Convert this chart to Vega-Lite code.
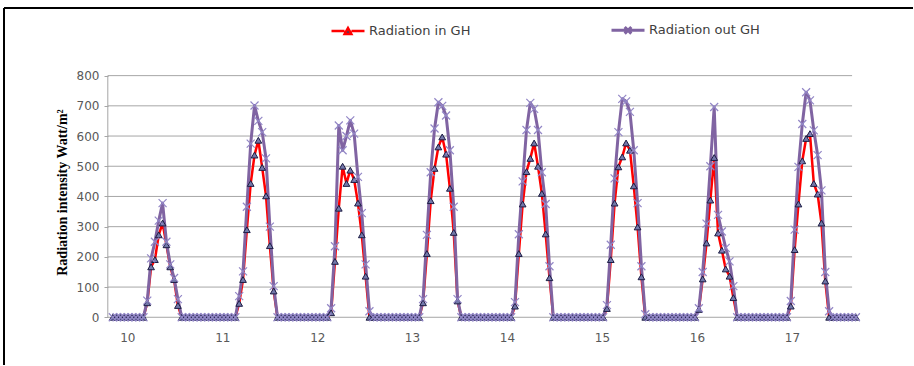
{
  "$schema": "https://vega.github.io/schema/vega-lite/v6.json",
  "width": 914,
  "height": 366,
  "autosize": {"type": "fit", "contains": "padding"},
  "padding": {"left": 3, "top": 7, "right": 0, "bottom": 0},
  "background": "white",
  "config": {
    "view": {"stroke": null},
    "axisX": {"orient": "bottom", "offset": -48, "domain": false, "ticks": false, "tickSize": 0, "grid": false, "labelPadding": 15,
              "labelFont": "DejaVu Sans", "labelFontSize": 12, "labelColor": "#595959"},
    "axisY": {"orient": "left", "offset": -104, "domain": false, "grid": false, "ticks": true, "tickSize": 4, "tickColor": "#a6a6a6",
              "labelPadding": 5, "labelFont": "DejaVu Sans", "labelFontSize": 12, "labelColor": "#595959",
              "titleFont": "Liberation Serif", "titleFontSize": 14, "titleFontWeight": "bold", "titleColor": "#000000", "titlePadding": 7}
  },
  "datasets": {
    "rad": [
      {"h":0,"in":0,"out":0},{"h":1,"in":0,"out":0},{"h":2,"in":0,"out":0},{"h":3,"in":0,"out":0},{"h":4,"in":0,"out":0},{"h":5,"in":0,"out":0},{"h":6,"in":0,"out":0},{"h":7,"in":0,"out":0},{"h":8,"in":0,"out":0},
      {"h":9,"in":48,"out":55},{"h":10,"in":167,"out":195},{"h":11,"in":191,"out":250},{"h":12,"in":273,"out":320},{"h":13,"in":312,"out":378},{"h":14,"in":240,"out":250},{"h":15,"in":167,"out":175},{"h":16,"in":125,"out":130},{"h":17,"in":39,"out":60},
      {"h":18,"in":0,"out":0},{"h":19,"in":0,"out":0},{"h":20,"in":0,"out":0},{"h":21,"in":0,"out":0},{"h":22,"in":0,"out":0},{"h":23,"in":0,"out":0},{"h":24,"in":0,"out":0},{"h":25,"in":0,"out":0},{"h":26,"in":0,"out":0},{"h":27,"in":0,"out":0},{"h":28,"in":0,"out":0},{"h":29,"in":0,"out":0},{"h":30,"in":0,"out":0},{"h":31,"in":0,"out":0},{"h":32,"in":0,"out":0},
      {"h":33,"in":46,"out":70},{"h":34,"in":125,"out":152},{"h":35,"in":290,"out":366},{"h":36,"in":443,"out":575},{"h":37,"in":537,"out":701},{"h":38,"in":586,"out":650},{"h":39,"in":496,"out":613},{"h":40,"in":402,"out":526},{"h":41,"in":237,"out":300},{"h":42,"in":87,"out":103},
      {"h":43,"in":0,"out":0},{"h":44,"in":0,"out":0},{"h":45,"in":0,"out":0},{"h":46,"in":0,"out":0},{"h":47,"in":0,"out":0},{"h":48,"in":0,"out":0},{"h":49,"in":0,"out":0},{"h":50,"in":0,"out":0},{"h":51,"in":0,"out":0},{"h":52,"in":0,"out":0},{"h":53,"in":0,"out":0},{"h":54,"in":0,"out":0},{"h":55,"in":0,"out":0},{"h":56,"in":0,"out":0},
      {"h":57,"in":15,"out":30},{"h":58,"in":185,"out":235},{"h":59,"in":361,"out":635},{"h":60,"in":500,"out":553},{"h":61,"in":443,"out":600},{"h":62,"in":487,"out":652},{"h":63,"in":456,"out":608},{"h":64,"in":378,"out":465},{"h":65,"in":273,"out":345},{"h":66,"in":136,"out":175},{"h":67,"in":0,"out":20},
      {"h":68,"in":0,"out":0},{"h":69,"in":0,"out":0},{"h":70,"in":0,"out":0},{"h":71,"in":0,"out":0},{"h":72,"in":0,"out":0},{"h":73,"in":0,"out":0},{"h":74,"in":0,"out":0},{"h":75,"in":0,"out":0},{"h":76,"in":0,"out":0},{"h":77,"in":0,"out":0},{"h":78,"in":0,"out":0},{"h":79,"in":0,"out":0},{"h":80,"in":0,"out":0},
      {"h":81,"in":48,"out":60},{"h":82,"in":211,"out":273},{"h":83,"in":386,"out":480},{"h":84,"in":493,"out":625},{"h":85,"in":564,"out":712},{"h":86,"in":597,"out":700},{"h":87,"in":540,"out":668},{"h":88,"in":427,"out":553},{"h":89,"in":281,"out":366},{"h":90,"in":54,"out":60},
      {"h":91,"in":0,"out":0},{"h":92,"in":0,"out":0},{"h":93,"in":0,"out":0},{"h":94,"in":0,"out":0},{"h":95,"in":0,"out":0},{"h":96,"in":0,"out":0},{"h":97,"in":0,"out":0},{"h":98,"in":0,"out":0},{"h":99,"in":0,"out":0},{"h":100,"in":0,"out":0},{"h":101,"in":0,"out":0},{"h":102,"in":0,"out":0},{"h":103,"in":0,"out":0},{"h":104,"in":0,"out":0},
      {"h":105,"in":37,"out":50},{"h":106,"in":211,"out":275},{"h":107,"in":375,"out":450},{"h":108,"in":482,"out":620},{"h":109,"in":526,"out":710},{"h":110,"in":577,"out":690},{"h":111,"in":500,"out":620},{"h":112,"in":410,"out":480},{"h":113,"in":276,"out":375},{"h":114,"in":131,"out":169},
      {"h":115,"in":0,"out":0},{"h":116,"in":0,"out":0},{"h":117,"in":0,"out":0},{"h":118,"in":0,"out":0},{"h":119,"in":0,"out":0},{"h":120,"in":0,"out":0},{"h":121,"in":0,"out":0},{"h":122,"in":0,"out":0},{"h":123,"in":0,"out":0},{"h":124,"in":0,"out":0},{"h":125,"in":0,"out":0},{"h":126,"in":0,"out":0},{"h":127,"in":0,"out":0},{"h":128,"in":0,"out":0},
      {"h":129,"in":29,"out":40},{"h":130,"in":191,"out":240},{"h":131,"in":378,"out":460},{"h":132,"in":498,"out":613},{"h":133,"in":531,"out":723},{"h":134,"in":577,"out":715},{"h":135,"in":553,"out":680},{"h":136,"in":435,"out":553},{"h":137,"in":299,"out":378},{"h":138,"in":134,"out":169},{"h":139,"in":0,"out":10},
      {"h":140,"in":0,"out":0},{"h":141,"in":0,"out":0},{"h":142,"in":0,"out":0},{"h":143,"in":0,"out":0},{"h":144,"in":0,"out":0},{"h":145,"in":0,"out":0},{"h":146,"in":0,"out":0},{"h":147,"in":0,"out":0},{"h":148,"in":0,"out":0},{"h":149,"in":0,"out":0},{"h":150,"in":0,"out":0},{"h":151,"in":0,"out":0},{"h":152,"in":0,"out":0},
      {"h":153,"in":26,"out":30},{"h":154,"in":127,"out":150},{"h":155,"in":246,"out":310},{"h":156,"in":388,"out":500},{"h":157,"in":529,"out":696},{"h":158,"in":279,"out":339},{"h":159,"in":222,"out":284},{"h":160,"in":160,"out":230},{"h":161,"in":136,"out":185},{"h":162,"in":65,"out":103},
      {"h":163,"in":0,"out":0},{"h":164,"in":0,"out":0},{"h":165,"in":0,"out":0},{"h":166,"in":0,"out":0},{"h":167,"in":0,"out":0},{"h":168,"in":0,"out":0},{"h":169,"in":0,"out":0},{"h":170,"in":0,"out":0},{"h":171,"in":0,"out":0},{"h":172,"in":0,"out":0},{"h":173,"in":0,"out":0},{"h":174,"in":0,"out":0},{"h":175,"in":0,"out":0},{"h":176,"in":0,"out":0},
      {"h":177,"in":37,"out":54},{"h":178,"in":224,"out":290},{"h":179,"in":375,"out":498},{"h":180,"in":518,"out":640},{"h":181,"in":592,"out":745},{"h":182,"in":608,"out":718},{"h":183,"in":443,"out":619},{"h":184,"in":408,"out":537},{"h":185,"in":312,"out":420},{"h":186,"in":120,"out":150},{"h":187,"in":0,"out":20},
      {"h":188,"in":0,"out":0},{"h":189,"in":0,"out":0},{"h":190,"in":0,"out":0},{"h":191,"in":0,"out":0},{"h":192,"in":0,"out":0},{"h":193,"in":0,"out":0},{"h":194,"in":0,"out":0}
    ],
    "grid": [{"g":0},{"g":100},{"g":200},{"g":300},{"g":400},{"g":500},{"g":600},{"g":700},{"g":800}],
    "one": [{"k":1}]
  },
  "layer": [
    {
      "data": {"name": "grid"},
      "mark": {"type": "rule", "stroke": "#a6a6a6", "strokeWidth": 1},
      "encoding": {
        "x": {"datum": -1.3, "type": "quantitative",
              "scale": {"domain": [-28.4, 208.9], "nice": false, "zero": false},
              "axis": {"values": [3.8, 28.6, 53.4, 78.1, 102.9, 127.7, 152.5, 177.3], "labelExpr": "'' + (round((datum.value - 3.8) / 24.78) + 10)", "title": null}},
        "x2": {"datum": 193},
        "y": {"field": "g", "type": "quantitative",
              "scale": {"domain": [-158, 1023.9], "nice": false, "zero": false},
              "axis": {"values": [0, 100, 200, 300, 400, 500, 600, 700, 800], "title": "Radiation intensity  Watt/m²", "titleY": 184}}
      }
    },
    {
      "data": {"name": "one"},
      "mark": {"type": "rule", "stroke": "#a6a6a6", "strokeWidth": 1},
      "encoding": {
        "x": {"datum": -1.3, "type": "quantitative",
              "axis": {"values": [3.8, 28.6, 53.4, 78.1, 102.9, 127.7, 152.5, 177.3], "labelExpr": "'' + (round((datum.value - 3.8) / 24.78) + 10)", "title": null}},
        "y": {"datum": 0, "type": "quantitative",
              "axis": {"values": [0, 100, 200, 300, 400, 500, 600, 700, 800], "title": "Radiation intensity  Watt/m²", "titleY": 184}},
        "y2": {"datum": 800}
      }
    },
    {
      "data": {"name": "one"},
      "mark": {"type": "rule", "stroke": "#000000", "strokeWidth": 2},
      "encoding": {
        "x": {"datum": -28.4, "type": "quantitative",
              "axis": {"values": [3.8, 28.6, 53.4, 78.1, 102.9, 127.7, 152.5, 177.3], "labelExpr": "'' + (round((datum.value - 3.8) / 24.78) + 10)", "title": null}},
        "y": {"datum": -158, "type": "quantitative",
              "axis": {"values": [0, 100, 200, 300, 400, 500, 600, 700, 800], "title": "Radiation intensity  Watt/m²", "titleY": 184}},
        "y2": {"datum": 1023.9}
      }
    },
    {
      "data": {"name": "one"},
      "mark": {"type": "rule", "stroke": "#000000", "strokeWidth": 2},
      "encoding": {
        "x": {"datum": -28.4, "type": "quantitative",
              "axis": {"values": [3.8, 28.6, 53.4, 78.1, 102.9, 127.7, 152.5, 177.3], "labelExpr": "'' + (round((datum.value - 3.8) / 24.78) + 10)", "title": null}},
        "x2": {"datum": 208.9},
        "y": {"datum": 1023.9, "type": "quantitative",
              "axis": {"values": [0, 100, 200, 300, 400, 500, 600, 700, 800], "title": "Radiation intensity  Watt/m²", "titleY": 184}}
      }
    },
    {
      "data": {"name": "rad"},
      "transform": [{"fold": ["in", "out"], "as": ["key", "value"]}],
      "mark": {"type": "line", "strokeJoin": "round"},
      "encoding": {
        "x": {"field": "h", "type": "quantitative",
              "axis": {"values": [3.8, 28.6, 53.4, 78.1, 102.9, 127.7, 152.5, 177.3], "labelExpr": "'' + (round((datum.value - 3.8) / 24.78) + 10)", "title": null}},
        "y": {"field": "value", "type": "quantitative",
              "axis": {"values": [0, 100, 200, 300, 400, 500, 600, 700, 800], "title": "Radiation intensity  Watt/m²", "titleY": 184}},
        "stroke": {"field": "key", "type": "nominal",
                   "scale": {"domain": ["in", "out"], "range": ["#ff0000", "#8064a2"]},
                   "legend": {"title": null, "orient": "none", "legendX": 326, "legendY": 4, "direction": "horizontal",
                              "padding": 0, "symbolSize": 1089, "symbolStrokeWidth": 2.5, "symbolFillColor": "#3a3d6e",
                              "labelFont": "DejaVu Sans", "labelFontSize": 13, "labelColor": "#404040",
                              "labelOffset": 3, "columnPadding": 134,
                              "labelExpr": "datum.value == 'in' ? 'Radiation in GH' : 'Radiation out GH'",
                              "encode": {"symbols": {"update": {
                                "shape": {"signal": "datum.value == 'in' ? 'M-1,0H-0.21M0.21,0H1M-0.2,0.17L0,-0.19L0.2,0.17Z' : 'M-1,0H1M-0.2,-0.2L0.2,0.2M-0.2,0.2L0.2,-0.2'"}
                              }}}}},
        "strokeWidth": {"field": "key", "type": "ordinal", "scale": {"domain": ["in", "out"], "range": [2.5, 3]}, "legend": null}
      }
    },
    {
      "data": {"name": "rad"},
      "mark": {"type": "point", "shape": "triangle-up", "filled": true, "fill": "#7378aa", "stroke": "#1c1c44", "strokeWidth": 1, "size": 45, "opacity": 1},
      "encoding": {
        "x": {"field": "h", "type": "quantitative",
              "axis": {"values": [3.8, 28.6, 53.4, 78.1, 102.9, 127.7, 152.5, 177.3], "labelExpr": "'' + (round((datum.value - 3.8) / 24.78) + 10)", "title": null}},
        "y": {"field": "in", "type": "quantitative",
              "axis": {"values": [0, 100, 200, 300, 400, 500, 600, 700, 800], "title": "Radiation intensity  Watt/m²", "titleY": 184}}
      }
    },
    {
      "data": {"name": "rad"},
      "mark": {"type": "point", "shape": "M-1,-1L1,1M-1,1L1,-1", "filled": false, "stroke": "#9286c6", "strokeWidth": 1.2, "size": 64, "opacity": 1},
      "encoding": {
        "x": {"field": "h", "type": "quantitative",
              "axis": {"values": [3.8, 28.6, 53.4, 78.1, 102.9, 127.7, 152.5, 177.3], "labelExpr": "'' + (round((datum.value - 3.8) / 24.78) + 10)", "title": null}},
        "y": {"field": "out", "type": "quantitative",
              "axis": {"values": [0, 100, 200, 300, 400, 500, 600, 700, 800], "title": "Radiation intensity  Watt/m²", "titleY": 184}}
      }
    }
  ]
}
